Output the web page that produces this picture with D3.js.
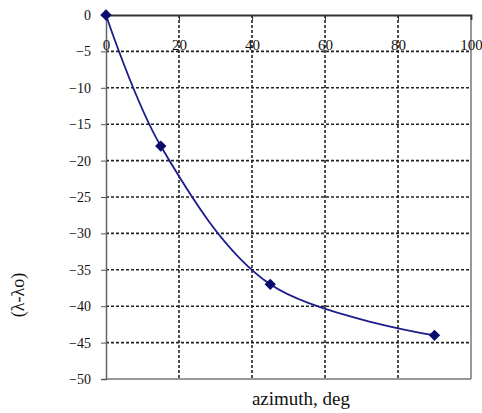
<!DOCTYPE html>
<html>
<head>
<meta charset="utf-8">
<script src="https://cdn.jsdelivr.net/npm/d3@7"></script>
<style>
  body { margin: 0; background: #fff; }
  svg text { font-family: "Liberation Serif", "DejaVu Serif", serif !important; }
</style>
</head>
<body>
<div id="chart"></div>
<script>
const azimuth = [0, 15, 45, 90];
const shift = [0, -18, -37, -44];
const xTicks = [0, 20, 40, 60, 80, 100];
const yTicks = [0, -5, -10, -15, -20, -25, -30, -35, -40, -45, -50];

const width = 482, height = 413;
const margin = { top: 15, right: 11, bottom: 34, left: 106 };

const svg = d3.select('#chart')
  .append('svg')
    .attr('width', width)
    .attr('height', height);

const x = d3.scaleLinear().domain([0, 100]).range([margin.left, width - margin.right]);
const y = d3.scaleLinear().domain([0, -50]).range([margin.top, height - margin.bottom]);

// dashed grid
svg.append('g').selectAll('line')
  .data(yTicks.filter(d => d !== 0 && d !== -50))
  .enter().append('line')
    .attr('x1', x(0)).attr('x2', x(100))
    .attr('y1', d => y(d)).attr('y2', d => y(d))
    .attr('stroke', '#222').attr('stroke-width', 1.6)
    .attr('stroke-dasharray', '3,2');
svg.append('g').selectAll('line')
  .data(xTicks.filter(d => d !== 0 && d !== 100))
  .enter().append('line')
    .attr('x1', d => x(d)).attr('x2', d => x(d))
    .attr('y1', y(0)).attr('y2', y(-50))
    .attr('stroke', '#222').attr('stroke-width', 1.6)
    .attr('stroke-dasharray', '3,2');

// frame
svg.append('line').attr('x1', x(100)).attr('x2', x(100)).attr('y1', y(0)).attr('y2', y(-50))
  .attr('stroke', '#777').attr('stroke-width', 1.5);
svg.append('line').attr('x1', x(0)).attr('x2', x(100)).attr('y1', y(-50)).attr('y2', y(-50))
  .attr('stroke', '#777').attr('stroke-width', 1.5);

// y axis
const yAxis = svg.append('g')
  .attr('transform', `translate(${x(0)},0)`)
  .call(d3.axisLeft(y).tickValues(yTicks).tickSize(5).tickPadding(10));
yAxis.attr('font-family', null).attr('font-size', 14);
yAxis.select('.domain').attr('stroke', '#666').attr('stroke-width', 1.5);
yAxis.selectAll('.tick line').attr('stroke', '#555');
yAxis.selectAll('text').attr('fill', '#111');

// x axis along y = 0 with labels below the line
const xAxis = svg.append('g')
  .attr('transform', `translate(0,${y(0)})`)
  .call(d3.axisBottom(x).tickValues(xTicks).tickSize(5).tickPadding(19));
xAxis.attr('font-family', null).attr('font-size', 15);
xAxis.select('.domain').attr('stroke', '#333').attr('stroke-width', 1.8);
xAxis.selectAll('.tick line').attr('stroke', '#333');
xAxis.selectAll('text').attr('fill', '#111');

// curve
const pts = azimuth.map((d, i) => [d, shift[i]]);
svg.append('path')
  .datum(pts)
  .attr('fill', 'none')
  .attr('stroke', '#1c1c8a')
  .attr('stroke-width', 1.8)
  .attr('d', d3.line().x(d => x(d[0])).y(d => y(d[1])).curve(d3.curveCatmullRom.alpha(0.5)));

// square markers turned 45 degrees
svg.append('g').selectAll('path')
  .data(pts)
  .enter().append('path')
    .attr('transform', d => `translate(${x(d[0])},${y(d[1])}) rotate(45)`)
    .attr('d', d3.symbol().type(d3.symbolSquare).size(64))
    .attr('fill', '#0b0b6e');

// axis titles
svg.append('text')
  .attr('x', 301).attr('y', 405)
  .attr('text-anchor', 'middle')
  .attr('font-size', 19)
  .attr('fill', '#111')
  .text('azimuth, deg');

svg.append('text')
  .attr('transform', 'translate(24,295) rotate(-90)')
  .attr('text-anchor', 'middle')
  .attr('font-size', 18)
  .attr('fill', '#111')
  .text('(λ-λo)');
</script>
</body>
</html>
